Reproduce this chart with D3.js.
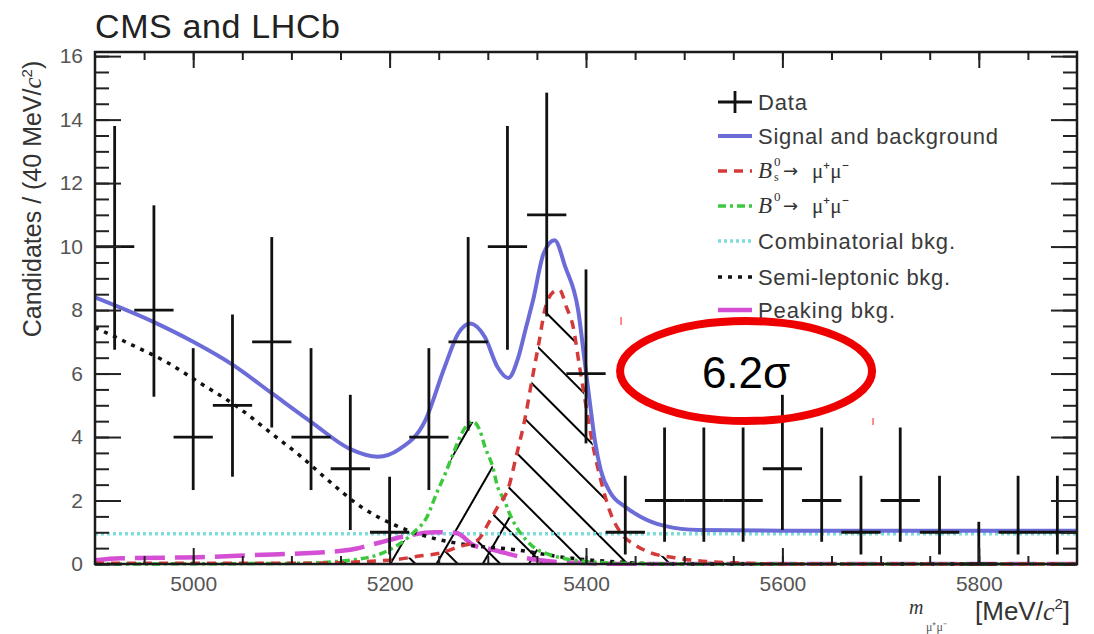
<!DOCTYPE html>
<html>
<head>
<meta charset="utf-8">
<script src="https://cdn.jsdelivr.net/npm/d3@7"></script>
<style>
  body { margin: 0; background: #fff; }
  svg { display: block; font-family: "Liberation Sans", Arial, sans-serif; }
</style>
</head>
<body>
<svg id="chart" width="1094" height="634"></svg>
<script>
var binCenters = [4920, 4960, 5000, 5040, 5080, 5120, 5160, 5200, 5240, 5280, 5320, 5360, 5400,
                  5440, 5480, 5520, 5560, 5600, 5640, 5680, 5720, 5760, 5800, 5840, 5880];
var counts = [10, 8, 4, 5, 7, 4, 3, 1, 4, 7, 10, 11, 6, 1, 2, 2, 2, 3, 2, 1, 2, 1, 0, 1, 1];
var errLow = [6.75, 5.27, 2.33, 2.75, 4.3, 2.33, 1.07, 0.3, 2.33, 4.2, 6.75, 7.8, 3.8,
              0.3, 0.7, 0.7, 0.7, 1.07, 0.7, 0.3, 0.7, 0.3, 0, 0.3, 0.3];
var errHigh = [13.8, 11.3, 6.8, 7.86, 10.3, 6.8, 5.33, 2.75, 6.8, 10.3, 13.8, 14.85, 9.28,
               2.78, 4.3, 4.3, 4.3, 5.33, 4.3, 2.78, 4.3, 2.78, 1.33, 2.78, 2.78];

// fit components, sampled along the mass axis
var totalMass = [4900, 4960, 5000, 5040, 5080, 5120, 5160, 5188, 5210, 5236, 5256, 5270, 5282, 5297,
                 5310, 5321, 5331, 5339, 5346, 5357, 5368, 5379, 5392, 5399, 5404, 5409, 5415, 5425,
                 5440, 5455, 5480, 5515, 5600, 5750, 5900];
var totalVal = [8.4, 7.62, 7.0, 6.28, 5.38, 4.48, 3.62, 3.38, 3.62, 4.5, 6.2, 7.27, 7.58, 7.15,
                6.2, 5.86, 6.5, 7.46, 8.3, 9.8, 10.2, 9.35, 8.0, 6.3, 5.07, 3.9, 2.96, 2.24,
                1.8, 1.5, 1.2, 1.07, 1.05, 1.05, 1.05];

var bsMass = [4900, 5100, 5200, 5230, 5252, 5270, 5290, 5300, 5310, 5321, 5329, 5338, 5345, 5352,
              5358, 5366, 5373, 5380, 5387, 5393, 5399, 5406, 5415, 5425, 5435, 5450, 5466, 5490,
              5514, 5560, 5600, 5900];
var bsVal = [0.02, 0.02, 0.12, 0.25, 0.35, 0.54, 0.76, 1.25, 1.8, 2.4, 3.4, 4.6, 5.8, 6.96,
             8.0, 8.55, 8.64, 8.1, 7.46, 6.3, 5.17, 3.9, 2.65, 1.6, 1.0, 0.6, 0.35, 0.2,
             0.1, 0.03, 0, 0];

var bdMass = [4900, 5100, 5160, 5200, 5224, 5238, 5248, 5257, 5265, 5277, 5285, 5292, 5297, 5305,
              5310, 5317, 5322, 5329, 5339, 5348, 5358, 5375, 5400, 5440, 5500, 5900];
var bdVal = [0, 0.02, 0.12, 0.45, 0.98, 1.48, 2.24, 2.87, 3.5, 4.3, 4.48, 4.2, 3.7, 3.06,
             2.43, 2.0, 1.6, 1.17, 0.76, 0.5, 0.35, 0.19, 0.08, 0.02, 0, 0];

var combMass = [4900, 5900];
var combVal = [0.95, 0.95];

var semiMass = [4900, 4933, 4974, 5005, 5045, 5079, 5110, 5137, 5171, 5205, 5246, 5280, 5328,
                5380, 5440, 5480, 5900];
var semiVal = [7.45, 6.97, 6.34, 5.74, 4.95, 4.13, 3.38, 2.65, 1.8, 1.23, 0.8, 0.6, 0.45,
               0.2, 0.05, 0, 0];

var peakMass = [4900, 4926, 5015, 5063, 5114, 5158, 5188, 5212, 5246, 5268, 5285, 5305, 5340,
                5365, 5400, 5450, 5900];
var peakVal = [0.12, 0.18, 0.22, 0.28, 0.34, 0.44, 0.66, 0.85, 1.0, 0.98, 0.6, 0.45, 0.18,
               0.08, 0.03, 0, 0];

var xMajorTicks = [5000, 5200, 5400, 5600, 5800];
var yMajorTicks = [0, 2, 4, 6, 8, 10, 12, 14, 16];
var legendLabels = ["Data", "Signal and background", "Bs", "B0",
                    "Combinatorial bkg.", "Semi-leptonic bkg.", "Peaking bkg."];
var significance = "6.2σ";

var margin = { top: 52, right: 17, bottom: 70, left: 95 },
  width = 1094,
  height = 634,
  binHalf = 20;

var x = d3.scaleLinear().domain([4900, 5900]).range([margin.left, width - margin.right]);
var y = d3.scaleLinear().domain([0, 16.13]).range([height - margin.bottom, margin.top]);

var svg = d3.select("#chart");
var defs = svg.append("defs");

defs.append("clipPath").attr("id", "plotclip")
  .append("rect")
  .attr("x", x(4900)).attr("y", y(16.13))
  .attr("width", x(5900) - x(4900)).attr("height", y(0) - y(16.13) + 2);

function hatch(id, angle, gap) {
  var p = defs.append("pattern")
    .attr("id", id)
    .attr("patternUnits", "userSpaceOnUse")
    .attr("width", gap).attr("height", gap)
    .attr("patternTransform", "rotate(" + angle + ")");
  p.append("line")
    .attr("x1", gap / 2).attr("y1", -1)
    .attr("x2", gap / 2).attr("y2", gap + 1)
    .attr("stroke", "#000").attr("stroke-width", 2);
}
hatch("hatchBs", -45, 30);
hatch("hatchBd", 30, 40);

function pairs(ms, vs) {
  return ms.map(function (m, i) { return [m, vs[i]]; });
}

var line = d3.line()
  .x(function (d) { return x(d[0]); })
  .y(function (d) { return y(d[1]); })
  .curve(d3.curveMonotoneX);

var area = d3.area()
  .x(function (d) { return x(d[0]); })
  .y0(y(0))
  .y1(function (d) { return y(d[1]); })
  .curve(d3.curveMonotoneX);

var plot = svg.append("g").attr("clip-path", "url(#plotclip)");

// hatched signal areas
plot.append("path").datum(pairs(bsMass, bsVal)).attr("d", area).attr("fill", "url(#hatchBs)");
plot.append("path").datum(pairs(bdMass, bdVal)).attr("d", area).attr("fill", "url(#hatchBd)");

var curves = [
  { m: combMass, v: combVal, color: "#7fdcdc", w: 3.5, dash: "3,3" },
  { m: peakMass, v: peakVal, color: "#d44fd4", w: 4.5, dash: "30,10" },
  { m: semiMass, v: semiVal, color: "#111", w: 3.5, dash: "4,6" },
  { m: bdMass, v: bdVal, color: "#3ec83e", w: 3.5, dash: "8,4,3,4" },
  { m: bsMass, v: bsVal, color: "#d43a3a", w: 3.5, dash: "9,7" },
  { m: totalMass, v: totalVal, color: "#6c6cd8", w: 4, dash: null }
];

curves.forEach(function (c) {
  plot.append("path")
    .datum(pairs(c.m, c.v))
    .attr("d", line)
    .attr("fill", "none")
    .attr("stroke", c.color)
    .attr("stroke-width", c.w)
    .attr("stroke-dasharray", c.dash);
});

// data points with error bars
var pts = plot.append("g").selectAll("g")
  .data(binCenters.map(function (c, i) {
    return { m: c, n: counts[i], lo: errLow[i], hi: errHigh[i] };
  }))
  .enter().append("g")
  .attr("stroke", "#111").attr("stroke-width", 2.8);

pts.append("line")
  .attr("x1", function (d) { return x(d.m); })
  .attr("x2", function (d) { return x(d.m); })
  .attr("y1", function (d) { return y(d.lo); })
  .attr("y2", function (d) { return y(d.hi); });
pts.append("line")
  .attr("x1", function (d) { return x(d.m - binHalf); })
  .attr("x2", function (d) { return x(d.m + binHalf); })
  .attr("y1", function (d) { return y(d.n); })
  .attr("y2", function (d) { return y(d.n); });

// frame and axes (ticks on all four sides, pointing inward)
var minorX = d3.range(4950, 5900, 50);
var minorY = d3.range(0, 16.1, 0.5);

function ticks(g) {
  g.select(".domain").remove();
  g.selectAll(".tick line").attr("stroke", "#222").attr("stroke-width", 2);
}

svg.append("g").attr("transform", "translate(0," + y(0) + ")")
  .call(d3.axisBottom(x).tickValues(minorX).tickSize(-8).tickFormat("")).call(ticks);
svg.append("g").attr("transform", "translate(0," + y(0) + ")")
  .call(d3.axisBottom(x).tickValues(xMajorTicks).tickSize(-16).tickPadding(12).tickFormat(d3.format("d")))
  .call(ticks)
  .selectAll("text").attr("font-size", 21).attr("fill", "#555")
  .attr("font-family", "Liberation Sans, Arial, sans-serif");

svg.append("g").attr("transform", "translate(0," + y(16.13) + ")")
  .call(d3.axisTop(x).tickValues(minorX).tickSize(-8).tickFormat("")).call(ticks);
svg.append("g").attr("transform", "translate(0," + y(16.13) + ")")
  .call(d3.axisTop(x).tickValues(xMajorTicks).tickSize(-16).tickFormat("")).call(ticks);

svg.append("g").attr("transform", "translate(" + x(4900) + ",0)")
  .call(d3.axisLeft(y).tickValues(minorY).tickSize(-14).tickFormat("")).call(ticks);
svg.append("g").attr("transform", "translate(" + x(4900) + ",0)")
  .call(d3.axisLeft(y).tickValues(yMajorTicks).tickSize(-26).tickPadding(12).tickFormat(d3.format("d")))
  .call(ticks)
  .selectAll("text").attr("font-size", 21).attr("fill", "#555")
  .attr("font-family", "Liberation Sans, Arial, sans-serif");

svg.append("g").attr("transform", "translate(" + x(5900) + ",0)")
  .call(d3.axisRight(y).tickValues(minorY).tickSize(-14).tickFormat("")).call(ticks);
svg.append("g").attr("transform", "translate(" + x(5900) + ",0)")
  .call(d3.axisRight(y).tickValues(yMajorTicks).tickSize(-26).tickFormat("")).call(ticks);

svg.append("rect")
  .attr("x", x(4900)).attr("y", y(16.13))
  .attr("width", x(5900) - x(4900)).attr("height", y(0) - y(16.13))
  .attr("fill", "none").attr("stroke", "#1a1a1a").attr("stroke-width", 2.5);

// title
svg.append("text")
  .attr("x", 95).attr("y", 38)
  .attr("font-size", 34).attr("fill", "#222")
  .attr("textLength", 245)
  .text("CMS and LHCb");

// y axis title
var yt = svg.append("text")
  .attr("transform", "translate(41,199) rotate(-90)")
  .attr("text-anchor", "middle")
  .attr("font-size", 25).attr("fill", "#333");
yt.append("tspan").text("Candidates / (40 MeV/");
yt.append("tspan").attr("font-style", "italic").attr("font-family", "Liberation Serif, serif").text("c");
yt.append("tspan").attr("font-size", 15).attr("dy", -9).text("2");
yt.append("tspan").attr("dy", 9).text(")");

// x axis title
svg.append("text").attr("x", 909).attr("y", 614)
  .attr("font-size", 20).attr("font-style", "italic").attr("fill", "#333")
  .attr("font-family", "Liberation Serif, serif").text("m");
svg.append("text").attr("x", 926).attr("y", 631)
  .attr("font-size", 12).attr("fill", "#555")
  .attr("font-family", "Liberation Serif, serif").text("μ⁺μ⁻");
var xt = svg.append("text").attr("x", 975).attr("y", 620)
  .attr("font-size", 26).attr("fill", "#333");
xt.append("tspan").text("[MeV/");
xt.append("tspan").attr("font-style", "italic").attr("font-family", "Liberation Serif, serif").text("c");
xt.append("tspan").attr("font-size", 15).attr("dy", -11).text("2");
xt.append("tspan").attr("dy", 11).text("]");

// legend
var legX0 = 718, legX1 = 752, legTextX = 758;
var rowY = [102, 136, 171, 206, 241, 277, 310];
var legTextLen = [49, 240, null, null, 197, 192, 137];
var leg = svg.append("g");

legendLabels.forEach(function (lab, i) {
  var yy = rowY[i];
  if (i === 0) {
    leg.append("line").attr("x1", legX0).attr("x2", legX1).attr("y1", yy).attr("y2", yy)
      .attr("stroke", "#111").attr("stroke-width", 2.8);
    leg.append("line").attr("x1", (legX0 + legX1) / 2).attr("x2", (legX0 + legX1) / 2)
      .attr("y1", yy - 11).attr("y2", yy + 11)
      .attr("stroke", "#111").attr("stroke-width", 2.8);
  } else {
    var c = curves[[0, 5, 4, 3, 0, 2, 1][i]];
    leg.append("line").attr("x1", legX0).attr("x2", legX1).attr("y1", yy).attr("y2", yy)
      .attr("stroke", c.color).attr("stroke-width", c.w)
      .attr("stroke-dasharray", i === 6 ? null : c.dash);
  }
  if (lab === "Bs" || lab === "B0") {
    var g = leg.append("g").attr("font-family", "Liberation Serif, serif").attr("fill", "#333");
    g.append("text").attr("x", legTextX).attr("y", yy + 7).attr("font-size", 23)
      .attr("font-style", "italic").text("B");
    g.append("text").attr("x", 774).attr("y", yy - 5).attr("font-size", 13).text("0");
    if (lab === "Bs")
      g.append("text").attr("x", 774).attr("y", yy + 10).attr("font-size", 12).text("s");
    g.append("text").attr("x", 783).attr("y", yy + 6).attr("font-size", 18)
      .attr("font-family", "DejaVu Sans, sans-serif").text("→");
    g.append("text").attr("x", 812).attr("y", yy + 7).attr("font-size", 21).text("μ⁺μ⁻");
  } else {
    leg.append("text").attr("x", legTextX).attr("y", yy + 8)
      .attr("font-size", 22).attr("fill", "#3a3a3a")
      .attr("textLength", legTextLen[i])
      .text(lab);
  }
});

// significance annotation
var cx = x(5563), cy = y(6.08);
svg.append("ellipse")
  .attr("cx", cx).attr("cy", cy).attr("rx", 126).attr("ry", 50)
  .attr("fill", "none").attr("stroke", "#ee0000").attr("stroke-width", 8);
svg.append("text")
  .attr("x", cx).attr("y", cy + 17)
  .attr("text-anchor", "middle")
  .attr("font-size", 44).attr("fill", "#000")
  .text(significance);
svg.append("line").attr("x1", cx - 125).attr("x2", cx - 125).attr("y1", cy - 54).attr("y2", cy - 46)
  .attr("stroke", "#f66").attr("stroke-width", 1.5);
svg.append("line").attr("x1", cx + 127).attr("x2", cx + 127).attr("y1", cy + 47).attr("y2", cy + 54)
  .attr("stroke", "#f66").attr("stroke-width", 1.5);
</script>
</body>
</html>
